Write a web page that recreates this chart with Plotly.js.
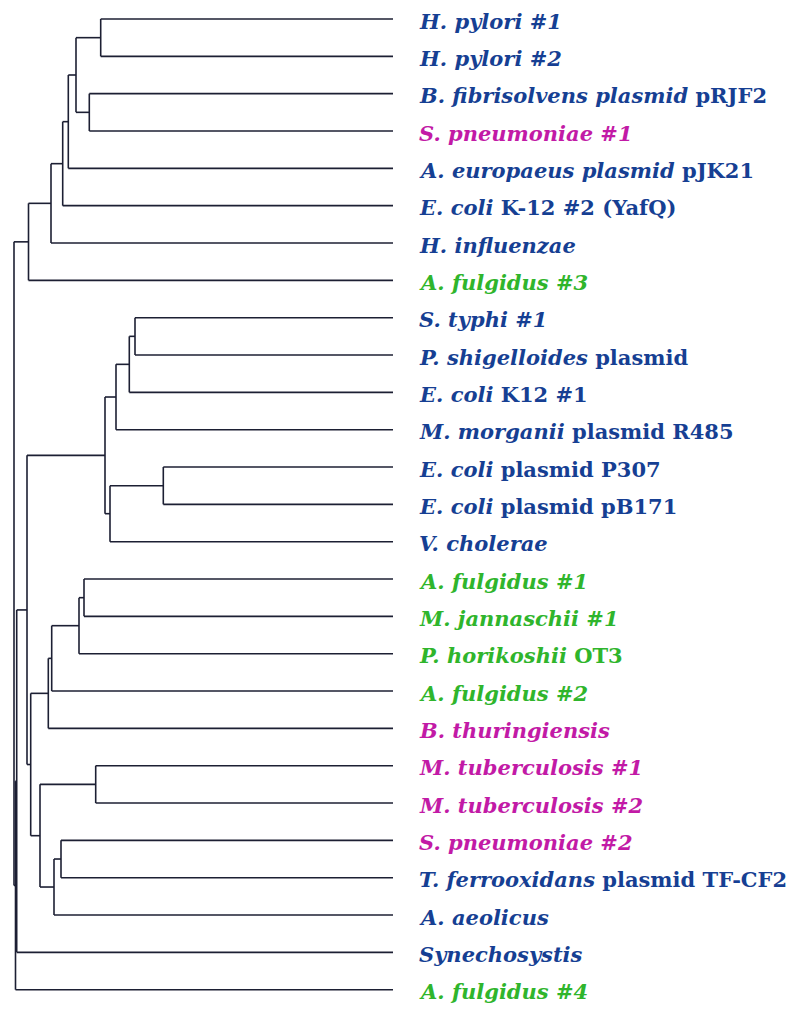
<!DOCTYPE html>
<html>
<head>
<meta charset="utf-8">
<script src="https://cdn.plot.ly/plotly-3.0.1.min.js"></script>
<style>html,body{margin:0;padding:0;background:#fff;}#chart{width:800px;height:1010px;}</style>
</head>
<body>
<div id="chart"></div>
<script>
// Leaf labels (top to bottom); <i> marks the italic parts
const leafLabels = [
  "<i>H. pylori #1</i>",
  "<i>H. pylori #2</i>",
  "<i>B. fibrisolvens plasmid</i> pRJF2",
  "<i>S. pneumoniae #1</i>",
  "<i>A. europaeus plasmid</i> pJK21",
  "<i>E. coli</i> K-12 #2 (YafQ)",
  "<i>H. influenzae</i>",
  "<i>A. fulgidus #3</i>",
  "<i>S. typhi #1</i>",
  "<i>P. shigelloides</i> plasmid",
  "<i>E. coli</i> K12 #1",
  "<i>M. morganii</i> plasmid R485",
  "<i>E. coli</i> plasmid P307",
  "<i>E. coli</i> plasmid pB171",
  "<i>V. cholerae</i>",
  "<i>A. fulgidus #1</i>",
  "<i>M. jannaschii #1</i>",
  "<i>P. horikoshii</i> OT3",
  "<i>A. fulgidus #2</i>",
  "<i>B. thuringiensis</i>",
  "<i>M. tuberculosis #1</i>",
  "<i>M. tuberculosis #2</i>",
  "<i>S. pneumoniae #2</i>",
  "<i>T. ferrooxidans</i> plasmid TF-CF2",
  "<i>A. aeolicus</i>",
  "<i>Synechosystis</i>",
  "<i>A. fulgidus #4</i>"
];
// Group of each leaf: B = bacteria, A = archaea, G = gram-positive
const leafGroup = ["B","B","B","G","B","B","B","A","B","B","B","B","B","B","B","A","A","A","A","G","G","G","G","B","B","B","A"];

// Internal nodes: children (leaf index or "nK" for internal node K) and node depth (position along the x scale)
const nodeChildren = [
  [0,1],        // n0
  [2,3],        // n1
  ["n0","n1"],  // n2
  ["n2",4],     // n3
  ["n3",5],     // n4
  ["n4",6],     // n5
  ["n5",7],     // n6
  [8,9],        // n7
  ["n7",10],    // n8
  ["n8",11],    // n9
  [12,13],      // n10
  ["n10",14],   // n11
  ["n9","n11"], // n12
  [15,16],      // n13
  ["n13",17],   // n14
  ["n14",18],   // n15
  ["n15",19],   // n16
  [20,21],      // n17
  [22,23],      // n18
  ["n18",24],   // n19
  ["n17","n19"],// n20
  ["n16","n20"],// n21
  ["n12","n21"],// n22
  ["n22",25],   // n23
  ["n23",26],   // n24
  ["n6","n24"]  // n25 (root)
];
const nodeDepth = [100.7, 89.3, 76, 68.3, 62.7, 51, 28.5, 135, 129.3, 116, 163.3, 110, 105,
                   84, 79, 51.7, 48.3, 95.7, 61, 54, 40, 30.7, 27, 16.7, 15.5, 14];
const leafDepth = 393;

const groupColor = {B: "#163f93", A: "#2fb52c", G: "#c21aa6"};

// compute y of nodes (leaves at their index, internal at mean of children)
const nodeY = [];
function yOf(c) {
  if (typeof c === "number") return c;
  return nodeY[parseInt(c.slice(1))];
}
function xOf(c) {
  if (typeof c === "number") return leafDepth;
  return nodeDepth[parseInt(c.slice(1))];
}
nodeChildren.forEach((ch, i) => { nodeY[i] = (yOf(ch[0]) + yOf(ch[1])) / 2; });

const lx = [], ly = [];
nodeChildren.forEach((ch, i) => {
  const x0 = nodeDepth[i];
  const y1 = yOf(ch[0]), y2 = yOf(ch[1]);
  lx.push(x0, x0, null); ly.push(y1, y2, null);
  ch.forEach(c => { lx.push(x0, xOf(c), null); ly.push(yOf(c), yOf(c), null); });
});

const traces = [{
  type: "scatter", mode: "lines", x: lx, y: ly,
  line: {color: "#1c1f33", width: 1.6}, hoverinfo: "skip", showlegend: false
}];

const annotations = leafLabels.map((t, i) => ({
  x: 417, y: i, xref: "x", yref: "y", xanchor: "left", yanchor: "middle", yshift: -2,
  text: "<b>" + t + "</b>", showarrow: false,
  font: {family: "DejaVu Serif", size: 21, color: groupColor[leafGroup[i]]}
}));

const layout = {
  width: 800, height: 1010,
  margin: {l: 0, r: 0, t: 0, b: 0},
  paper_bgcolor: "#ffffff", plot_bgcolor: "#ffffff",
  xaxis: {range: [0, 800], visible: false, fixedrange: true},
  yaxis: {range: [26.544, -0.509], visible: false, fixedrange: true},
  annotations: annotations,
  showlegend: false
};
Plotly.newPlot("chart", traces, layout, {staticPlot: true, displayModeBar: false});
</script>
</body>
</html>
